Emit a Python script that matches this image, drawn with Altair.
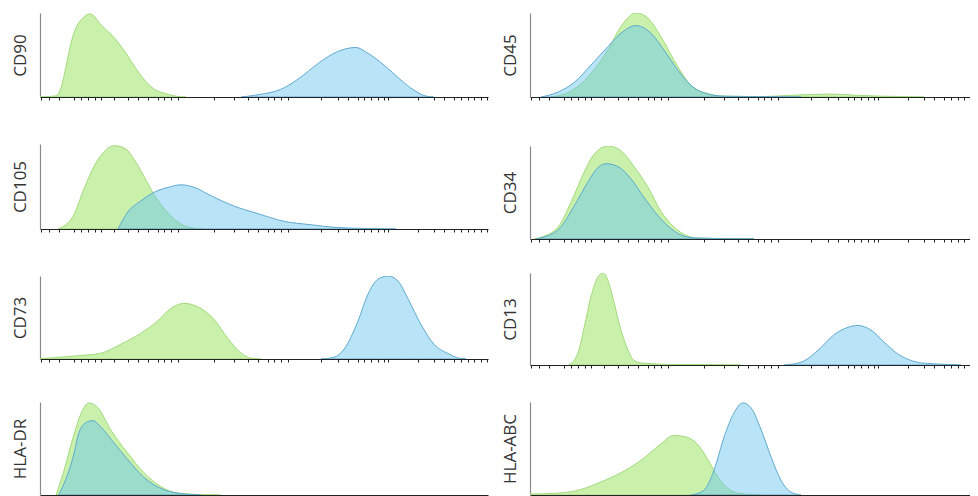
import altair as alt
import pandas as pd

# ---- x positions are in percent of the axis length, y in percent of panel height ----
CD90_GREEN_X = [0.0, 2.5, 3.6, 4.7, 5.8, 6.9, 8.0, 9.6, 11.2, 13.6, 17.0, 19.2, 21.4, 23.7, 25.9, 28.1, 30.4, 32.6]
CD90_GREEN_Y = [0.0, 0.8, 1.5, 11, 36, 64, 82, 94, 99, 86, 68, 52, 34, 18, 8, 4, 1, 0]
CD90_BLUE_X = [44.9, 47.8, 54.5, 58.3, 62.1, 65.6, 68.8, 70.5, 73.2, 76.8, 80.6, 83.5, 86.2, 87.9]
CD90_BLUE_Y = [0, 2, 11, 24, 40, 52, 58, 59, 52, 38, 20, 8, 1, 0]

CD105_GREEN_X = [4.0, 7.4, 9.8, 12.1, 14.3, 16.5, 19.2, 21.0, 23.2, 25.4, 27.7, 29.9, 32.1, 34.4, 36.2]
CD105_GREEN_Y = [0, 15, 47, 74, 91, 98, 94, 82, 62, 41, 24, 12, 4, 1, 0]
CD105_BLUE_X = [17.4, 19.6, 22.5, 25.4, 28.6, 31.5, 34.4, 38.2, 43.3, 48.7, 54.5, 60.5, 65.6, 73.2, 79.5]
CD105_BLUE_Y = [0, 20, 33, 43, 49, 52, 49, 39, 27, 18, 9, 5, 2, 0.5, 0]

CD73_GREEN_X = [0.0, 3.0, 8.5, 13.6, 18.1, 22.5, 26.3, 29.2, 32.1, 35.9, 38.8, 41.9, 44.9, 47.1, 49.3]
CD73_GREEN_Y = [0.5, 1.5, 4, 7, 18, 31, 46, 61, 67, 61, 48, 25, 7, 1, 0]
CD73_BLUE_X = [62.7, 65.6, 67.9, 71.0, 73.2, 75.4, 77.7, 79.9, 82.1, 85.0, 87.9, 91.3, 93.5, 95.1]
CD73_BLUE_Y = [0, 2, 12, 46, 78, 96, 100, 94, 73, 42, 18, 6, 1, 0]

HLADR_GREEN_X = [3.6, 5.4, 7.4, 9.2, 10.9, 12.9, 15.8, 19.6, 23.2, 27.0, 30.8, 35.9, 40.4]
HLADR_GREEN_Y = [0, 27, 62, 88, 99, 94, 70, 45, 24, 9, 2, 0.5, 0]
HLADR_BLUE_X = [4.2, 7.4, 8.7, 10.3, 11.8, 13.6, 16.5, 19.6, 23.2, 27.0, 30.8, 35.9]
HLADR_BLUE_Y = [0, 41, 67, 78, 80, 73, 56, 38, 19, 7, 2, 0]

CD45_GREEN_X = [4.7, 9.8, 13.6, 17.4, 20.3, 23.7, 26.3, 29.2, 33.0, 35.9, 39.7, 43.3, 51.6, 58.3, 67.2, 73.2, 78.3, 85.0, 88.0]
CD45_GREEN_Y = [0, 9, 28, 56, 84, 100, 94, 72, 36, 14, 4, 1, 0.5, 2, 3.5, 2, 1, 0.3, 0]
CD45_BLUE_X = [2.5, 6.3, 9.8, 13.6, 17.4, 20.3, 23.7, 27.0, 29.9, 33.0, 35.9, 38.8, 43.3, 51.6, 60.5]
CD45_BLUE_Y = [0, 6, 17, 38, 60, 76, 85, 76, 56, 32, 14, 5, 1, 0.5, 0]

CD34_GREEN_X = [0.9, 2.5, 6.3, 9.2, 12.1, 14.3, 17.4, 20.3, 23.2, 26.3, 29.2, 32.1, 35.3, 37.5, 45.5, 50.0]
CD34_GREEN_Y = [0, 2, 13, 40, 72, 91, 100, 95, 78, 56, 30, 13, 3, 1, 0.3, 0]
CD34_BLUE_X = [1.3, 3.1, 6.9, 9.8, 12.9, 15.2, 17.0, 19.6, 22.5, 25.4, 28.6, 31.5, 34.4, 37.5, 45.5, 50.0]
CD34_BLUE_Y = [0, 2, 13, 35, 61, 77, 81, 78, 65, 45, 25, 11, 3, 1, 0.3, 0]

CD13_GREEN_X = [8.7, 10.7, 12.1, 13.6, 15.2, 16.3, 17.4, 18.8, 20.3, 21.9, 23.2, 25.4, 32.1, 43.3, 47.0]
CD13_GREEN_Y = [0, 13, 41, 74, 96, 100, 92, 67, 38, 16, 5, 2, 0.5, 0.3, 0]
CD13_BLUE_X = [56.7, 60.5, 64.3, 67.9, 71.0, 73.2, 76.1, 79.0, 82.1, 85.0, 87.9, 94.0, 96.2]
CD13_BLUE_Y = [0, 3, 16, 33, 41, 43, 38, 25, 12, 5, 2, 0.5, 0]

HLAABC_GREEN_X = [0.0, 6.3, 11.4, 15.8, 20.3, 24.1, 27.0, 29.2, 32.1, 34.4, 37.5, 39.7, 42.0, 44.2, 46.4, 49.3, 51.6]
HLAABC_GREEN_Y = [1, 2, 6, 14, 24, 35, 46, 55, 64, 63, 54, 38, 19, 7, 2, 0.5, 0]
HLAABC_BLUE_X = [35.9, 38.8, 41.1, 43.3, 45.5, 47.5, 49.3, 51.6, 53.8, 56.0, 58.3, 60.5]
HLAABC_BLUE_Y = [0, 5, 27, 62, 88, 99, 94, 70, 41, 16, 3, 0]

TICK_POSITIONS = [0.2, 2.0, 4.2, 7.6, 9.2, 10.7, 12.3, 13.6, 16.5, 19.6, 21.9, 24.1, 26.3, 27.7,
                  29.2, 30.8, 38.8, 43.3, 46.4, 48.7, 50.9, 52.2, 53.8, 55.4, 62.7, 66.5, 68.8,
                  71.0, 72.3, 73.9, 75.4, 76.8, 77.7, 84.4, 87.9, 90.2, 92.4, 94.0, 95.5, 96.9,
                  98.4, 99.8]

LEFT_W = 448
RIGHT_W = 440


def panel(label, gx, gy, bx, by, width, height):
    xmax = width / 448 * 100
    xs = alt.Scale(domain=[0, xmax], nice=False, zero=False)
    ys = alt.Scale(domain=[0, 100], nice=False)
    xaxis = alt.Axis(values=[t for t in TICK_POSITIONS if t <= xmax], labels=False, ticks=True,
                     tickSize=3, tickColor="#222222", tickWidth=1, domainColor="#222222",
                     domainWidth=1, grid=False, title=None)
    yaxis = alt.Axis(labels=False, ticks=False, grid=False, domainColor="#8a8a8a", domainWidth=1.2,
                     title=label, titleFontSize=17, titleFont="Open Sans", titleFontWeight="normal",
                     titleColor="#333333", titlePadding=11)
    g = pd.DataFrame({"x": gx, "y": gy})
    b = pd.DataFrame({"x": bx, "y": by})
    ga = alt.Chart(g).mark_area(fill="#c9f1ab", fillOpacity=1, stroke="#a3da7c", strokeWidth=1,
                                interpolate="monotone", clip=True).encode(
        x=alt.X("x:Q", scale=xs, axis=xaxis),
        y=alt.Y("y:Q", scale=ys, axis=yaxis))
    ba = alt.Chart(b).mark_area(fill="#64c4f0", fillOpacity=0.45, stroke="#5fa9d0", strokeWidth=1,
                                interpolate="monotone", clip=True).encode(
        x=alt.X("x:Q", scale=xs, axis=xaxis),
        y=alt.Y("y:Q", scale=ys, axis=yaxis))
    return alt.layer(ga, ba).properties(width=width, height=height)


p_cd90 = panel("CD90", CD90_GREEN_X, CD90_GREEN_Y, CD90_BLUE_X, CD90_BLUE_Y, LEFT_W, 84)
p_cd105 = panel("CD105", CD105_GREEN_X, CD105_GREEN_Y, CD105_BLUE_X, CD105_BLUE_Y, LEFT_W, 85)
p_cd73 = panel("CD73", CD73_GREEN_X, CD73_GREEN_Y, CD73_BLUE_X, CD73_BLUE_Y, LEFT_W, 83)
p_hladr = panel("HLA-DR", HLADR_GREEN_X, HLADR_GREEN_Y, HLADR_BLUE_X, HLADR_BLUE_Y, LEFT_W, 93)

p_cd45 = panel("CD45", CD45_GREEN_X, CD45_GREEN_Y, CD45_BLUE_X, CD45_BLUE_Y, RIGHT_W, 84)
p_cd34 = panel("CD34", CD34_GREEN_X, CD34_GREEN_Y, CD34_BLUE_X, CD34_BLUE_Y, RIGHT_W, 93)
p_cd13 = panel("CD13", CD13_GREEN_X, CD13_GREEN_Y, CD13_BLUE_X, CD13_BLUE_Y, RIGHT_W, 92)
p_hlaabc = panel("HLA-ABC", HLAABC_GREEN_X, HLAABC_GREEN_Y, HLAABC_BLUE_X, HLAABC_BLUE_Y, RIGHT_W, 93)

left_col = alt.vconcat(
    p_cd90,
    alt.vconcat(p_cd105, alt.vconcat(p_cd73, p_hladr, spacing=39), spacing=43),
    spacing=43)
right_col = alt.vconcat(
    p_cd45,
    alt.vconcat(p_cd34, alt.vconcat(p_cd13, p_hlaabc, spacing=33), spacing=30),
    spacing=45)

chart = alt.hconcat(left_col, right_col, spacing=12).properties(
    padding={"left": 2, "top": 5, "right": 0, "bottom": 0}
).configure(background="white").configure_view(stroke="transparent", strokeWidth=0)

chart.save("out.html", embed_options={"renderer": "svg", "actions": False})
